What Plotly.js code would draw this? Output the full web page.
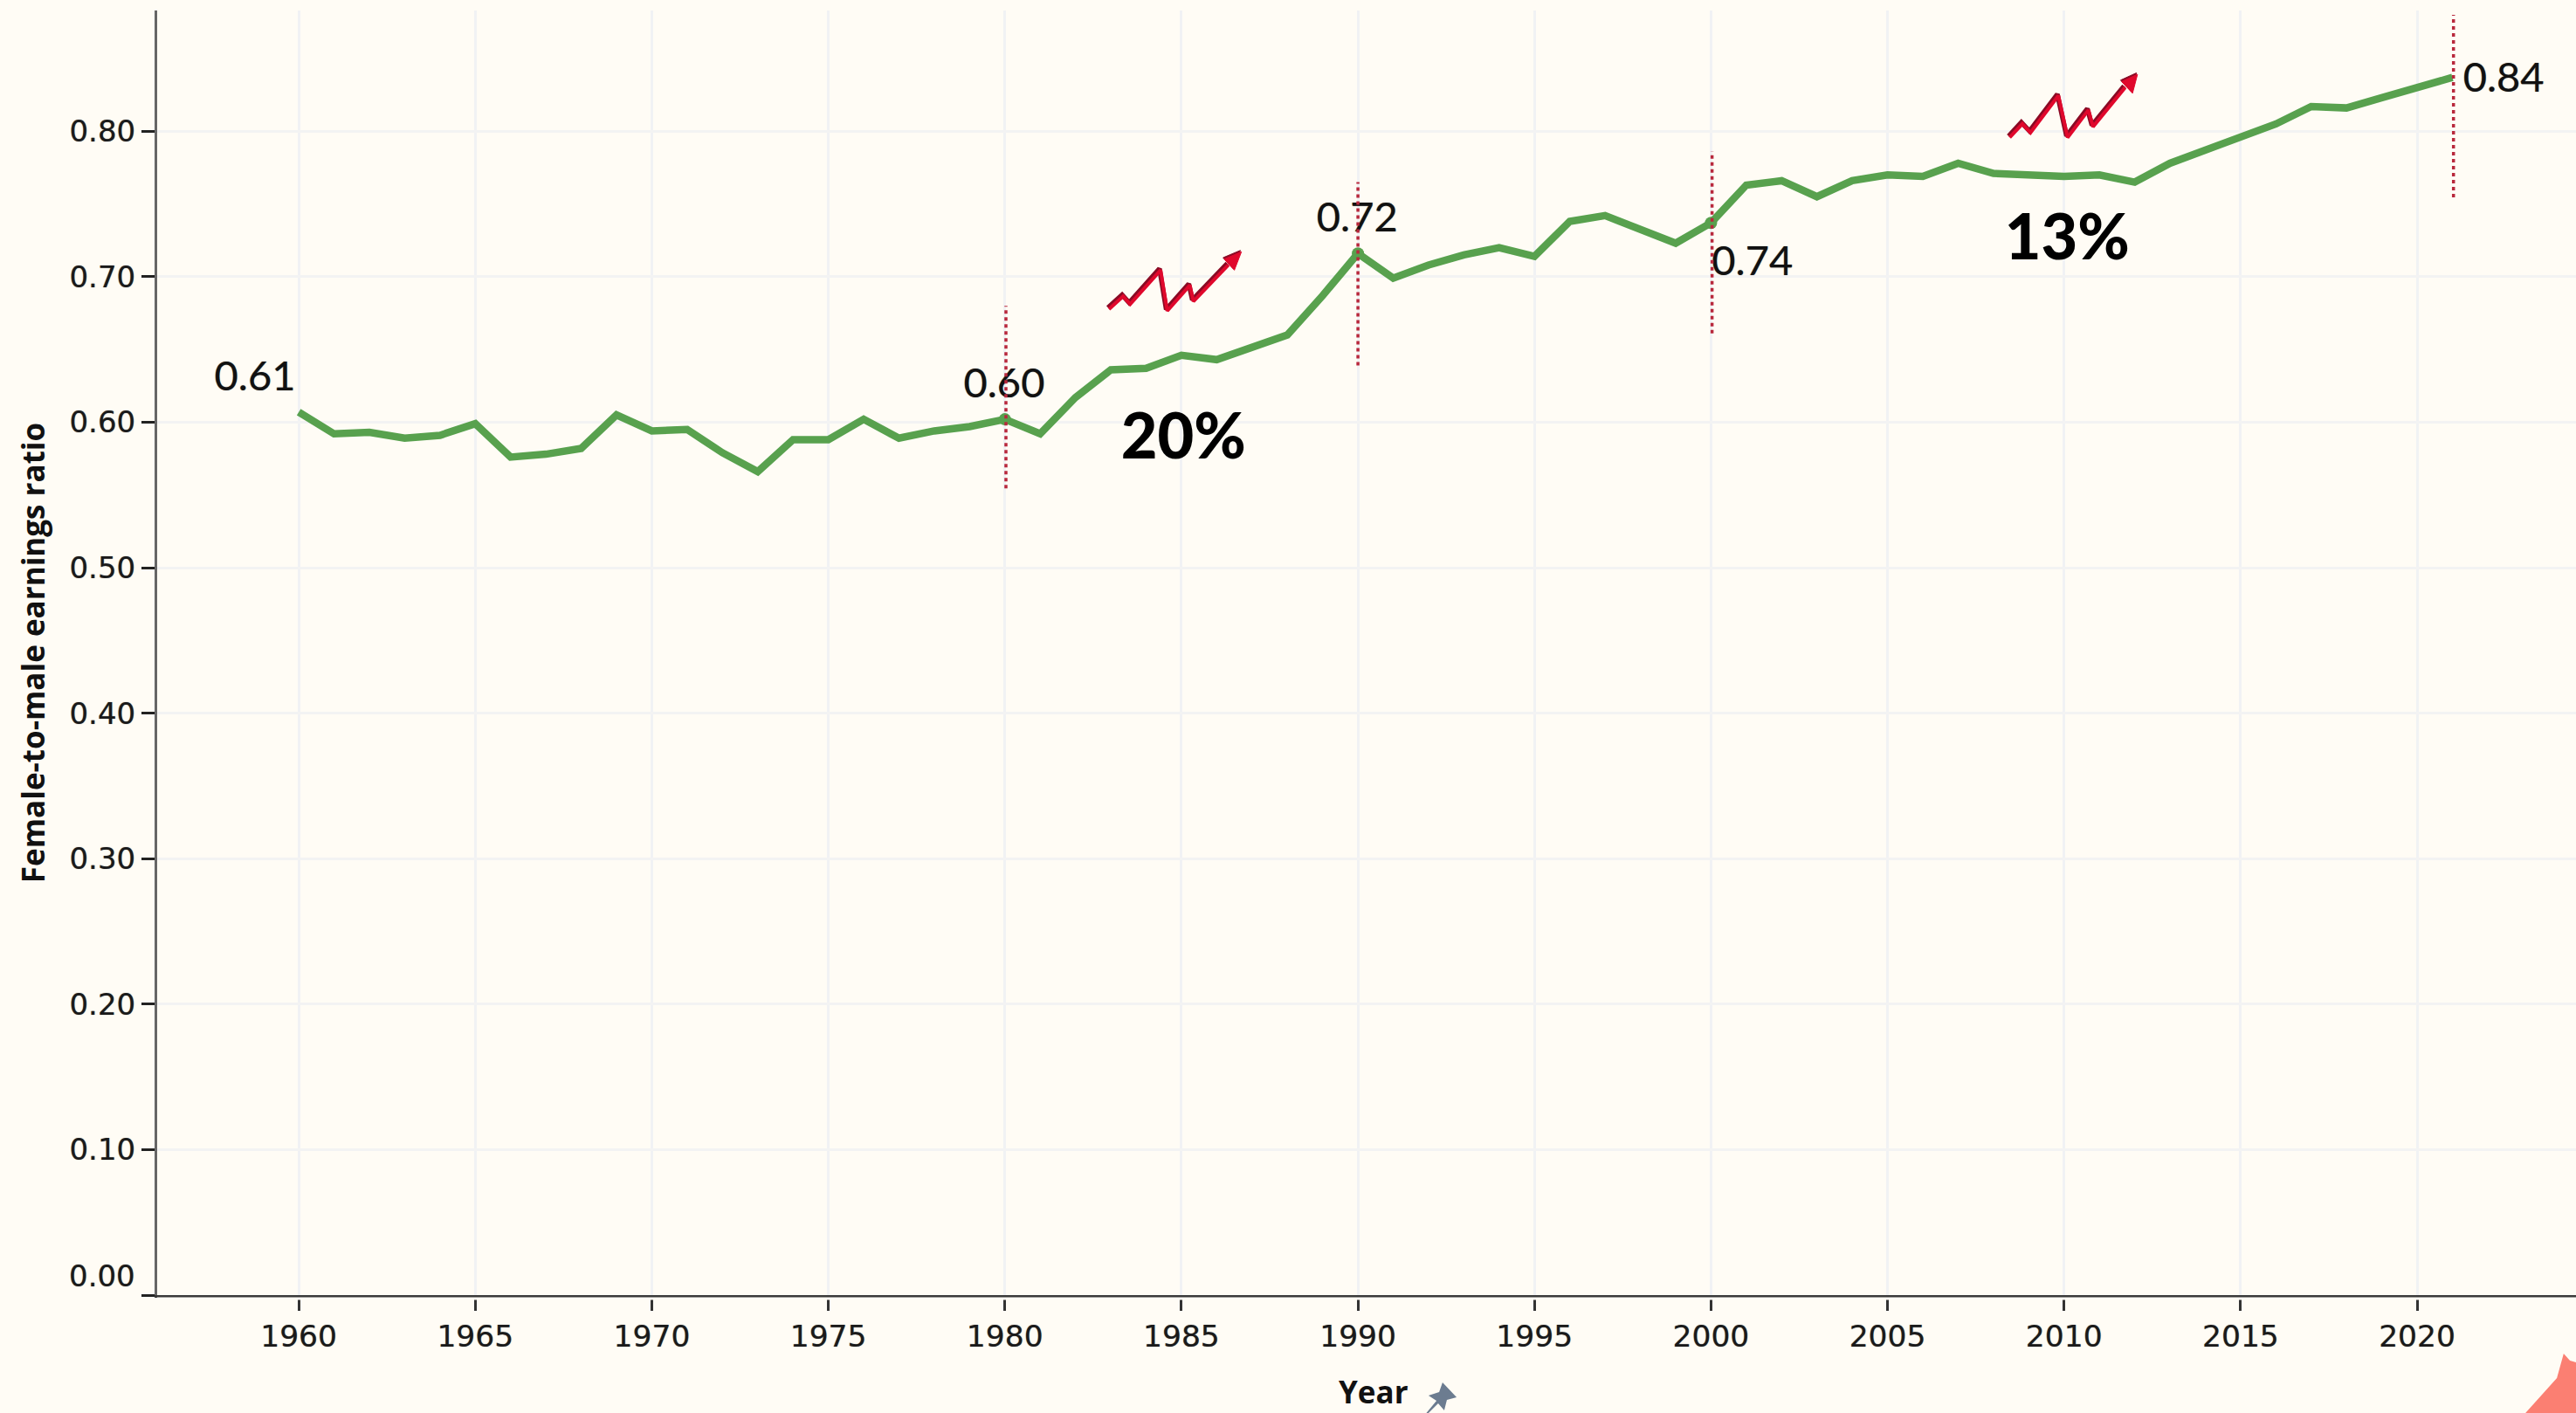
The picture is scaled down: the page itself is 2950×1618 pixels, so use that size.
<!DOCTYPE html>
<html>
<head>
<meta charset="utf-8">
<script src="https://cdn.plot.ly/plotly-3.0.1.min.js"></script>
<style>html,body{margin:0;padding:0;background:#fffcf5}#chart{width:2950px;height:1618px}</style>
</head>
<body>
<div id="chart"></div>
<script>
const years = [1960,1961,1962,1963,1964,1965,1966,1967,1968,1969,1970,1971,1972,1973,1974,1975,1976,1977,1978,1979,1980,1981,1982,1983,1984,1985,1986,1987,1988,1989,1990,1991,1992,1993,1994,1995,1996,1997,1998,1999,2000,2001,2002,2003,2004,2005,2006,2007,2008,2009,2010,2011,2012,2013,2014,2015,2016,2017,2018,2019,2020,2021];
const ratio = [.607,.592,.593,.589,.591,.599,.576,.578,.582,.605,.594,.595,.579,.566,.588,.588,.602,.589,.594,.597,.602,.592,.617,.636,.637,.646,.643,.652,.660,.687,.716,.699,.708,.715,.720,.714,.738,.742,.732,.723,.737,.763,.766,.755,.766,.770,.769,.778,.771,.770,.769,.770,.765,.778,.787,.796,.805,.817,.816,.823,.830,.837];
const markerYears = [1980,1990,2000];
const markerValues = [.602,.716,.737];

const refYears = [1980.03,1990,2000.03,2021.03];
const refLow = [.5545,.6390,.6610,.7545];
const refHigh = [.6800,.7650,.7860,.8800];

const valueLabels = ['0.61','0.60','0.72','0.74','0.84'];
const valueLabelX = [1958.76,1979.98,1989.98,2001.17,2022.45];
const valueLabelY = [.629,.624,.738,.708,.834];
const growthLabels = ['20%','13%'];
const growthLabelX = [1985.06,2010.09];
const growthLabelY = [.586,.723];

const arrow1X = [1982.95,1983.35,1983.55,1984.41,1984.60,1985.24,1985.34,1986.33];
const arrow1Y = [.6777,.6865,.6811,.7045,.6765,.6941,.6831,.7081];
const head1X = [1986.70,1986.21,1986.50,1986.70];
const head1Y = [.7171,.7121,.7045,.7171];
const arrow2X = [2008.46,2008.82,2009.05,2009.84,2010.10,2010.69,2010.82,2011.73];
const arrow2Y = [.7957,.8051,.7991,.8245,.7957,.8145,.8031,.8301];
const head2X = [2012.08,2011.63,2011.94,2012.08];
const head2Y = [.8391,.8341,.8261,.8391];

const xTickYears = [1960,1965,1970,1975,1980,1985,1990,1995,2000,2005,2010,2015,2020];
const yTicks = [0,.1,.2,.3,.4,.5,.6,.7,.8];
const yTickText = ['','0.10','0.20','0.30','0.40','0.50','0.60','0.70','0.80'];
const zeroLabel = '0.00';
const xTitle = 'Year';

const BG = '#fffcf5', GREEN = '#58a14e', DOT = '#b8283c', RED = '#e0082c', DARK = '#8a0a24';
const LABEL_FONT = 'Lato, sans-serif';
const TICK_FONT = '"DejaVu Sans", sans-serif';
const SOFT = '0 0 1px rgba(0,0,0,.55)';

function refX(a){const x=[];a.forEach(v=>x.push(v,v,null));return x;}
function refY(){const y=[];refYears.forEach((_,i)=>y.push(refLow[i],refHigh[i],null));return y;}
function arrowLine(x,y,c,w,dx,dy){return {x:x.map(v=>v+dx),y:y.map(v=>v+dy),mode:'lines',line:{color:c,width:w,shape:'linear'},cliponaxis:false,showlegend:false,hoverinfo:'skip'};}
function arrowHead(x,y,c,dx,dy){return {x:x.map(v=>v+dx),y:y.map(v=>v+dy),mode:'lines',fill:'toself',fillcolor:c,line:{color:c,width:1},cliponaxis:false,showlegend:false,hoverinfo:'skip'};}

const data = [
  {x:years,y:ratio,mode:'lines',line:{color:GREEN,width:8.5,shape:'linear'},showlegend:false,hoverinfo:'skip'},
  {x:markerYears,y:markerValues,mode:'markers',marker:{color:GREEN,size:14},showlegend:false,hoverinfo:'skip'},
  {x:valueLabelX,y:valueLabelY,text:valueLabels,mode:'text',textposition:'middle center',textfont:{family:LABEL_FONT,size:47,color:'#111',shadow:SOFT},cliponaxis:false,showlegend:false,hoverinfo:'skip'},
  {x:growthLabelX,y:growthLabelY,text:growthLabels,mode:'text',textposition:'middle center',textfont:{family:LABEL_FONT,size:72,color:'#000',weight:900},cliponaxis:false,showlegend:false,hoverinfo:'skip'},
  {x:refX(refYears),y:refY(),mode:'lines',line:{color:DOT,width:3.5,dash:'4px,4px'},connectgaps:false,cliponaxis:false,showlegend:false,hoverinfo:'skip'},
  arrowLine(arrow1X,arrow1Y,DARK,5.5,-.03,.0010),
  arrowHead(head1X,head1Y,DARK,-.03,.0010),
  arrowLine(arrow1X,arrow1Y,RED,4,0,0),
  arrowHead(head1X,head1Y,RED,0,0),
  arrowLine(arrow2X,arrow2Y,DARK,5.5,-.03,.0010),
  arrowHead(head2X,head2Y,DARK,-.03,.0010),
  arrowLine(arrow2X,arrow2Y,RED,4,0,0),
  arrowHead(head2X,head2Y,RED,0,0)
];

const layout = {
  width:2950,height:1618,
  paper_bgcolor:BG,plot_bgcolor:BG,
  margin:{l:180,r:0,t:12,b:135,pad:0},
  showlegend:false,hovermode:false,
  xaxis:{
    range:[1955.99,2024.5],tickmode:'array',tickvals:xTickYears,ticktext:xTickYears.map(String),
    showgrid:true,gridcolor:'#f1f2f4',gridwidth:3,zeroline:false,
    showline:true,linecolor:'#3a3a3a',linewidth:3,
    ticks:'outside',ticklen:15,tickwidth:3,tickcolor:'#333',
    tickfont:{family:TICK_FONT,size:34.5,color:'#1a1a1a',shadow:SOFT},ticklabelstandoff:0
  },
  yaxis:{
    range:[0,.883],tickmode:'array',tickvals:yTicks,ticktext:yTickText,
    showgrid:true,gridcolor:'#f3f3f3',gridwidth:3,zeroline:false,
    showline:true,linecolor:'#666',linewidth:3,
    ticks:'outside',ticklen:15,tickwidth:3,tickcolor:'#222',
    tickfont:{family:TICK_FONT,size:34,color:'#1a1a1a',shadow:SOFT},
    title:{text:'Female-to-male earnings ratio',font:{family:'"Open Sans", sans-serif',size:35,color:'#111',weight:700},standoff:18}
  },
  annotations:[
    {text:zeroLabel,xref:'paper',yref:'paper',x:0,y:0,xanchor:'right',yanchor:'middle',xshift:-23,yshift:22,showarrow:false,font:{family:TICK_FONT,size:34,color:'#1a1a1a',shadow:SOFT}},
    {text:xTitle,xref:'paper',yref:'paper',x:.5029,y:-.0918,xanchor:'center',yanchor:'bottom',borderpad:0,showarrow:false,font:{family:'"Open Sans", sans-serif',size:35,color:'#111',weight:700}}
  ],
  shapes:[
    {type:'line',xref:'paper',yref:'paper',x0:0,x1:1,y0:-.0027,y1:-.0027,line:{color:BG,width:3},layer:'above'},
    {type:'path',xref:'paper',yref:'paper',layer:'above',fillcolor:'#6c7c90',line:{width:0},
     path:'M0.5247,-0.0918 L0.5289,-0.0823 L0.5256,-0.0782 L0.5300,-0.0755 L0.5314,-0.0680 L0.5372,-0.0795 L0.5332,-0.0816 L0.5321,-0.0897 L0.5296,-0.0843 L0.5256,-0.0918 Z'},
    {type:'path',xref:'paper',yref:'paper',layer:'above',fillcolor:'#fb7f72',line:{width:0},
     path:'M0.9791,-0.0918 L0.9921,-0.0646 L0.9949,-0.0455 L0.9975,-0.0510 L1,-0.0523 L1,-0.0918 Z'}
  ]
};
Plotly.newPlot('chart',data,layout,{displayModeBar:false,staticPlot:true});
</script>
</body>
</html>
